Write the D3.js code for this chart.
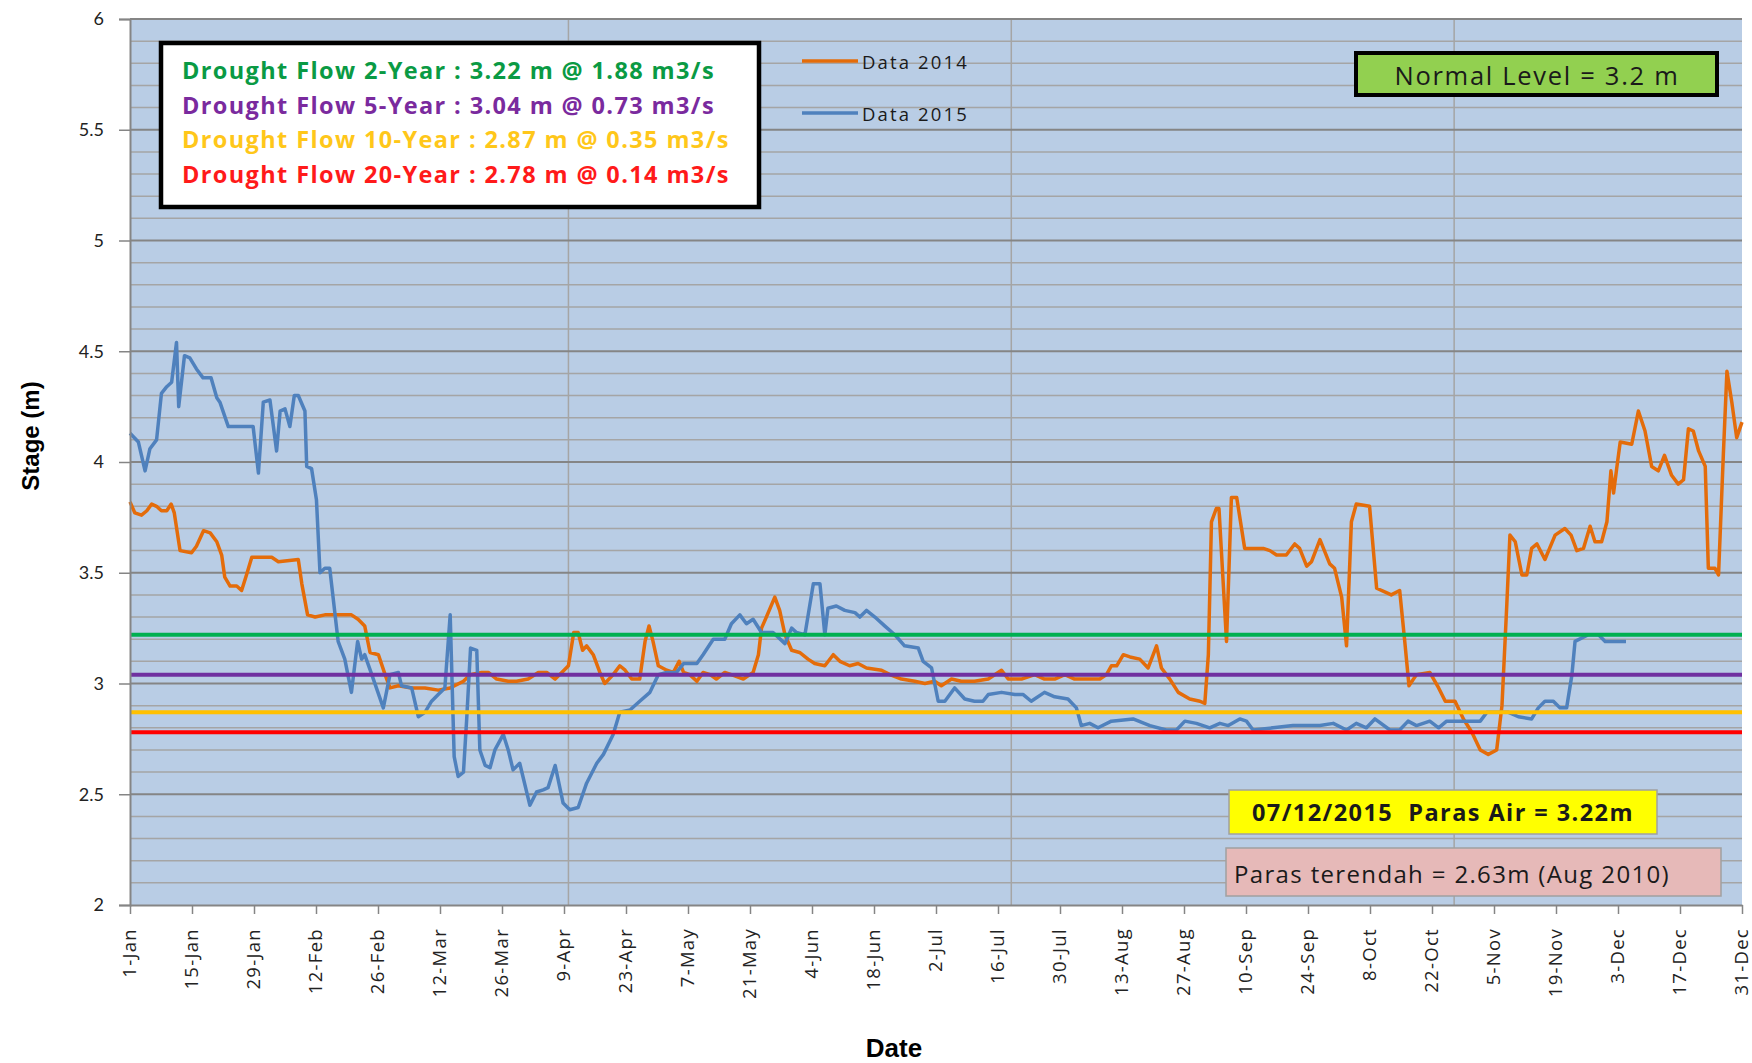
<!DOCTYPE html>
<html lang="en">
<head>
<meta charset="UTF-8">
<title>Stage chart</title>
<script src="https://cdnjs.cloudflare.com/ajax/libs/d3/7.9.0/d3.min.js"></script>
<style>
    body { margin: 0; padding: 0; background: #fff; }
    svg { display: block; font-family: "Open Sans", Lato, sans-serif; }
    text { white-space: pre; }
</style>
</head>
<body>
<div id="chart"></div>
<script>
// day of year (1 = 1 Jan), stage in metres
const data2014 = [[1,3.82],[2.1,3.77],[3.6,3.76],[4.8,3.78],[5.9,3.81],[7,3.80],[8.1,3.78],[9.3,3.78],[10.3,3.81],[11,3.77],[12.3,3.60],[14.9,3.59],[16,3.62],[17.6,3.69],[19.1,3.68],[20.6,3.64],[21.7,3.58],[22.4,3.48],[23.6,3.44],[25.1,3.44],[26.2,3.42],[27.3,3.49],[28.5,3.57],[33,3.57],[34.5,3.55],[39,3.56],[39.8,3.45],[41.1,3.31],[42.8,3.30],[45,3.31],[51,3.31],[52.5,3.29],[54,3.26],[55.2,3.14],[57.1,3.13],[58.6,3.04],[59.7,2.98],[61.6,2.99],[64.6,2.98],[67.6,2.98],[70.6,2.97],[73.3,2.98],[76.3,3.01],[77.8,3.04],[80.4,3.05],[81.9,3.05],[83.8,3.02],[86.4,3.01],[88.3,3.01],[90.9,3.02],[93.2,3.05],[95.1,3.05],[97,3.02],[98.5,3.05],[100,3.08],[101.2,3.23],[102.2,3.23],[103.2,3.15],[104.1,3.17],[105.6,3.13],[107.1,3.05],[108.2,3.00],[110.1,3.04],[111.6,3.08],[112.8,3.06],[114.3,3.02],[116.1,3.02],[117.3,3.19],[118.2,3.26],[119.1,3.19],[120.3,3.08],[122.2,3.06],[123.7,3.05],[125,3.10],[126,3.05],[127.4,3.04],[129,3.01],[130.4,3.05],[132,3.04],[133.4,3.02],[135.3,3.05],[136.8,3.04],[139.5,3.02],[141.7,3.05],[142.9,3.13],[143.6,3.25],[144.7,3.30],[146.6,3.39],[147.7,3.33],[148.9,3.22],[150.4,3.15],[152.2,3.14],[154.1,3.11],[155.6,3.09],[157.9,3.08],[159.8,3.13],[161.3,3.10],[163.5,3.08],[165.4,3.09],[167.3,3.07],[170.7,3.06],[172.6,3.04],[175.2,3.02],[178.2,3.01],[180.5,3.00],[182.7,3.01],[184.2,2.99],[186.5,3.02],[188.7,3.01],[191.7,3.01],[194.8,3.02],[197.8,3.06],[199.3,3.02],[202.3,3.02],[205.3,3.04],[207.5,3.02],[209.8,3.02],[212.1,3.04],[214.3,3.02],[217.4,3.02],[220,3.02],[221.5,3.04],[222.6,3.08],[223.8,3.08],[225.3,3.13],[226.8,3.12],[229,3.11],[230.9,3.07],[232.8,3.17],[233.9,3.07],[235.8,3.02],[237.7,2.96],[240.3,2.93],[242.6,2.92],[243.7,2.91],[244.5,3.13],[245.2,3.73],[246.3,3.79],[246.9,3.79],[248.6,3.19],[249.7,3.84],[250.9,3.84],[252.7,3.61],[255.4,3.61],[256.9,3.61],[258.4,3.60],[259.9,3.58],[262.1,3.58],[264,3.63],[265.1,3.61],[266.7,3.53],[267.8,3.55],[269.7,3.65],[271.9,3.54],[273,3.52],[274.6,3.39],[275.7,3.17],[276.8,3.73],[277.9,3.81],[280.9,3.80],[282.5,3.43],[284.7,3.41],[285.8,3.40],[287.7,3.42],[288.8,3.20],[289.8,2.99],[291.5,3.04],[294.5,3.05],[296.5,2.98],[298,2.92],[300.2,2.92],[302.1,2.84],[304,2.78],[305.9,2.70],[307.7,2.68],[309.6,2.70],[310.8,2.90],[311.9,3.36],[312.6,3.67],[313.8,3.64],[315.3,3.49],[316.4,3.49],[317.5,3.61],[318.7,3.63],[320.5,3.56],[322.8,3.67],[325,3.70],[326.4,3.67],[327.7,3.60],[329.2,3.61],[330.7,3.71],[331.8,3.64],[333.3,3.64],[334.5,3.73],[335.4,3.96],[336,3.86],[336.7,3.97],[337.5,4.09],[340.1,4.08],[341.6,4.23],[343.1,4.14],[344.6,3.98],[346.1,3.96],[347.5,4.03],[349.1,3.94],[350.6,3.90],[351.8,3.92],[352.9,4.15],[354,4.14],[355.2,4.05],[356.7,3.98],[357.4,3.52],[358.9,3.52],[359.7,3.49],[360.8,4.04],[361.6,4.41],[362.7,4.27],[363.8,4.11],[365,4.18]];

const data2015 = [[1,4.13],[2.9,4.09],[4.4,3.96],[5.5,4.06],[7,4.10],[8.1,4.31],[9.3,4.34],[10.4,4.36],[11.5,4.54],[12,4.25],[13.3,4.48],[14.5,4.47],[16,4.42],[17.5,4.38],[19.3,4.38],[20.6,4.29],[21.3,4.27],[23.2,4.16],[27.7,4.16],[28.8,4.16],[30,3.95],[31.1,4.27],[32.6,4.28],[34.1,4.05],[34.9,4.23],[36,4.24],[37.1,4.16],[38.1,4.30],[39,4.30],[40.5,4.23],[40.9,3.98],[42,3.97],[43.1,3.83],[43.9,3.50],[45,3.52],[46.1,3.52],[48,3.19],[49.5,3.11],[51,2.96],[52.4,3.19],[53.3,3.11],[54,3.13],[55.6,3.04],[58.2,2.89],[59.7,3.04],[61.6,3.05],[62.3,2.99],[64.6,2.98],[66.1,2.85],[67.6,2.87],[69.1,2.92],[70.6,2.95],[72.1,2.98],[73.3,3.31],[74.2,2.67],[75.1,2.58],[76.3,2.60],[77,2.83],[77.9,3.16],[79.3,3.15],[80,2.70],[81.2,2.63],[82.3,2.62],[83.4,2.70],[85.3,2.77],[86.4,2.70],[87.5,2.61],[89,2.64],[91.3,2.45],[92.8,2.51],[94.3,2.52],[95.4,2.53],[97,2.63],[98.8,2.46],[100.3,2.43],[102.2,2.44],[104.1,2.55],[106.4,2.64],[107.9,2.68],[110.1,2.77],[111.6,2.87],[113.9,2.88],[116.1,2.92],[118.4,2.96],[120.3,3.04],[122.2,3.05],[124.4,3.05],[126,3.09],[129,3.09],[130.4,3.13],[132.7,3.20],[135.3,3.20],[136.8,3.27],[138.7,3.31],[140.2,3.27],[141.7,3.29],[143.6,3.23],[146.2,3.23],[148.9,3.18],[150.4,3.25],[151.5,3.23],[153.4,3.22],[155.3,3.45],[156.8,3.45],[157.9,3.22],[158.6,3.34],[160.5,3.35],[162.4,3.33],[164.7,3.32],[165.8,3.30],[167.3,3.33],[169.2,3.30],[171.4,3.26],[173.7,3.22],[175.9,3.17],[179,3.16],[180.1,3.10],[182,3.07],[183.5,2.92],[185,2.92],[187.2,2.98],[189.5,2.93],[191.7,2.92],[193.6,2.92],[194.8,2.95],[197.8,2.96],[200.8,2.95],[202.7,2.95],[204.5,2.92],[207.5,2.96],[209.8,2.94],[212.8,2.93],[214.7,2.89],[215.8,2.81],[217.7,2.82],[219.6,2.80],[222.6,2.83],[227.5,2.84],[231.3,2.81],[235,2.79],[237.3,2.79],[239.2,2.83],[241.8,2.82],[244.8,2.80],[247.1,2.82],[249,2.81],[251.6,2.84],[253.1,2.83],[254.6,2.79],[259.1,2.80],[263.6,2.81],[269.7,2.81],[272.7,2.82],[275.7,2.79],[277.9,2.82],[280.2,2.80],[282.1,2.84],[285.5,2.79],[287.7,2.79],[289.6,2.83],[291.5,2.81],[294.5,2.83],[296.5,2.80],[298.3,2.83],[301,2.83],[303.2,2.83],[305.9,2.83],[307.4,2.87],[312.3,2.87],[314.5,2.85],[317.5,2.84],[319,2.89],[320.5,2.92],[322.4,2.92],[323.9,2.89],[325.4,2.89],[326.6,3.04],[327.3,3.19],[330.3,3.22],[332.6,3.22],[334.1,3.19],[338.8,3.19]];

const seriesNames = ["Data 2014", "Data 2015"];
const seriesColors = ["#e46c0a", "#4f81bd"];

const droughtLabels = [
    "Drought Flow 2-Year : 3.22 m @ 1.88 m3/s",
    "Drought Flow 5-Year : 3.04 m @ 0.73 m3/s",
    "Drought Flow 10-Year : 2.87 m @ 0.35 m3/s",
    "Drought Flow 20-Year : 2.78 m @ 0.14 m3/s"
];
const droughtLevels = [3.22, 3.04, 2.87, 2.78];
const droughtColors = ["#00b050", "#7030a0", "#ffc000", "#ff0000"];
const droughtTextColors = ["#0a9a44", "#7a2a9e", "#ffc71a", "#ff1a1a"];

const xTickLabels = ["1-Jan","15-Jan","29-Jan","12-Feb","26-Feb","12-Mar","26-Mar","9-Apr","23-Apr","7-May","21-May","4-Jun","18-Jun","2-Jul","16-Jul","30-Jul","13-Aug","27-Aug","10-Sep","24-Sep","8-Oct","22-Oct","5-Nov","19-Nov","3-Dec","17-Dec","31-Dec"];
const yTicks = [2, 2.5, 3, 3.5, 4, 4.5, 5, 5.5, 6];
const xGridDays = [100, 200, 300];

const normalLabel = "Normal Level = 3.2 m";
const currentLabel = "07/12/2015  Paras Air = 3.22m";
const lowestLabel = "Paras terendah = 2.63m (Aug 2010)";

// ---------------------------------------------------------------
const W = 1752, H = 1063;
const plotL = 130, plotR = 1742, plotT = 19, plotB = 905;

const parseDay = d3.timeParse("%d-%b-%Y");
const dayOfYear = s => d3.timeDay.count(new Date(2015, 0, 1), parseDay(s + "-2015")) + 1;

// stretch letter spacing so a text block spans the wanted width
function fitWidth(sel, target) {
    sel.each(function () {
        const n = this.getNumberOfChars();
        const w = this.getComputedTextLength();
        d3.select(this).attr("letter-spacing", Math.max(0, (target - w) / n));
    });
}

const x = d3.scaleLinear().domain([1, 365]).range([plotL, plotR]);
const y = d3.scaleLinear().domain([2, 6]).range([plotB, plotT]);

const svg = d3.select("#chart").append("svg")
    .attr("width", W).attr("height", H);

// plot area
svg.append("rect")
    .attr("x", plotL).attr("y", plotT)
    .attr("width", plotR - plotL).attr("height", plotB - plotT)
    .attr("fill", "#b9cde5");

// minor horizontal gridlines every 0.1
const minor = d3.range(2.1, 6, 0.1).filter(v => Math.round(v * 10) % 5 !== 0);
svg.append("g").selectAll("line").data(minor).join("line")
    .attr("x1", plotL).attr("x2", plotR)
    .attr("y1", d => y(d)).attr("y2", d => y(d))
    .attr("stroke", "#a5a5a5").attr("stroke-width", 1.5);

// vertical gridlines
svg.append("g").selectAll("line").data(xGridDays).join("line")
    .attr("x1", d => x(d)).attr("x2", d => x(d))
    .attr("y1", plotT).attr("y2", plotB)
    .attr("stroke", "#a5a5a5").attr("stroke-width", 1.5);

// major horizontal gridlines
svg.append("g").selectAll("line").data(yTicks.slice(1)).join("line")
    .attr("x1", plotL).attr("x2", plotR)
    .attr("y1", d => y(d)).attr("y2", d => y(d))
    .attr("stroke", "#858585").attr("stroke-width", 2);

// series
const line = d3.line().x(d => x(d[0])).y(d => y(d[1]));
[data2014, data2015].forEach((data, i) => {
    svg.append("path")
        .datum(data)
        .attr("d", line)
        .attr("fill", "none")
        .attr("stroke", seriesColors[i])
        .attr("stroke-width", 3.5)
        .attr("stroke-linejoin", "round");
});

// drought level lines
svg.append("g").selectAll("line").data(droughtLevels).join("line")
    .attr("x1", plotL).attr("x2", plotR)
    .attr("y1", d => y(d)).attr("y2", d => y(d))
    .attr("stroke", (d, i) => droughtColors[i])
    .attr("stroke-width", 4);

// y axis
const yAxis = svg.append("g")
    .attr("transform", `translate(${plotL},0)`)
    .call(d3.axisLeft(y).tickValues(yTicks).tickFormat(d3.format("")).tickSize(11).tickPadding(15));
yAxis.select(".domain").attr("stroke", "#858585").attr("stroke-width", 2);
yAxis.selectAll(".tick line").attr("stroke", "#858585").attr("stroke-width", 1.5);
yAxis.selectAll("text").attr("font-size", 18).attr("fill", "#222").attr("font-family", "Lato, sans-serif");

// x axis
const xAxis = svg.append("g")
    .attr("transform", `translate(0,${plotB})`)
    .call(d3.axisBottom(x)
        .tickValues(xTickLabels.map(dayOfYear))
        .tickFormat((d, i) => xTickLabels[i])
        .tickSize(9).tickSizeOuter(0));
xAxis.select(".domain").attr("stroke", "#858585").attr("stroke-width", 2);
xAxis.selectAll(".tick line").attr("stroke", "#858585").attr("stroke-width", 1.5);
xAxis.selectAll("text")
    .attr("transform", "rotate(-90)")
    .attr("text-anchor", "end")
    .attr("x", -23).attr("y", 0).attr("dy", "0.3em")
    .attr("font-size", 18.5).attr("letter-spacing", 1.3)
    .attr("fill", "#222").attr("font-family", "'Open Sans', sans-serif");

// axis titles
svg.append("text")
    .attr("transform", "translate(30,436) rotate(-90)")
    .attr("text-anchor", "middle").attr("dominant-baseline", "central")
    .attr("font-family", "'Liberation Sans', Arial, sans-serif")
    .attr("font-weight", "bold").attr("font-size", 24)
    .text("Stage (m)");
svg.append("text")
    .attr("x", 894).attr("y", 1048)
    .attr("text-anchor", "middle").attr("dominant-baseline", "central")
    .attr("font-family", "'Liberation Sans', Arial, sans-serif")
    .attr("font-weight", "bold").attr("font-size", 26)
    .text("Date");

// drought flow box
svg.append("rect")
    .attr("x", 161).attr("y", 43).attr("width", 598).attr("height", 164)
    .attr("fill", "#fff").attr("stroke", "#000").attr("stroke-width", 4.5);
const droughtText = svg.append("g").selectAll("text").data(droughtLabels).join("text")
    .attr("x", 182).attr("y", (d, i) => 70 + i * 34.7)
    .attr("dominant-baseline", "central")
    .attr("font-weight", "bold").attr("font-size", 23.5)
    .attr("fill", (d, i) => droughtTextColors[i])
    .text(d => d);
fitWidth(d3.select(droughtText.nodes()[0]), 533);
droughtText.attr("letter-spacing", d3.select(droughtText.nodes()[0]).attr("letter-spacing"));

// series legend
const legend = svg.append("g").selectAll("g").data(seriesNames).join("g")
    .attr("transform", (d, i) => `translate(802,${61 + i * 52})`);
legend.append("line")
    .attr("x1", 0).attr("x2", 56)
    .attr("stroke", (d, i) => seriesColors[i]).attr("stroke-width", 3.5);
const legendText = legend.append("text")
    .attr("x", 60).attr("dominant-baseline", "central")
    .attr("font-size", 18.5).attr("fill", "#1a1a1a")
    .text(d => d);
fitWidth(legendText, 107);

// normal level box
svg.append("rect")
    .attr("x", 1356).attr("y", 53).attr("width", 361).attr("height", 42)
    .attr("fill", "#92d050").attr("stroke", "#000").attr("stroke-width", 4);
svg.append("text")
    .attr("x", 1537).attr("y", 75)
    .attr("text-anchor", "middle").attr("dominant-baseline", "central")
    .attr("font-size", 25.5).attr("fill", "#1a1a1a")
    .text(normalLabel)
    .call(fitWidth, 285);

// current level box
svg.append("rect")
    .attr("x", 1229).attr("y", 790).attr("width", 428).attr("height", 44)
    .attr("fill", "#ffff00").attr("stroke", "#a0a0a0").attr("stroke-width", 1.5);
svg.append("text")
    .attr("x", 1443).attr("y", 812)
    .attr("text-anchor", "middle").attr("dominant-baseline", "central")
    .attr("font-weight", "bold").attr("font-size", 23.5).attr("fill", "#1a1a1a")
    .text(currentLabel)
    .call(fitWidth, 382);

// lowest level box
svg.append("rect")
    .attr("x", 1226).attr("y", 848).attr("width", 495).attr("height", 48)
    .attr("fill", "#e6b9b8").attr("stroke", "#a0a0a0").attr("stroke-width", 1.5);
svg.append("text")
    .attr("x", 1234).attr("y", 873)
    .attr("dominant-baseline", "central")
    .attr("font-size", 24).attr("fill", "#1a1a1a")
    .text(lowestLabel)
    .call(fitWidth, 436);
</script>
</body>
</html>
